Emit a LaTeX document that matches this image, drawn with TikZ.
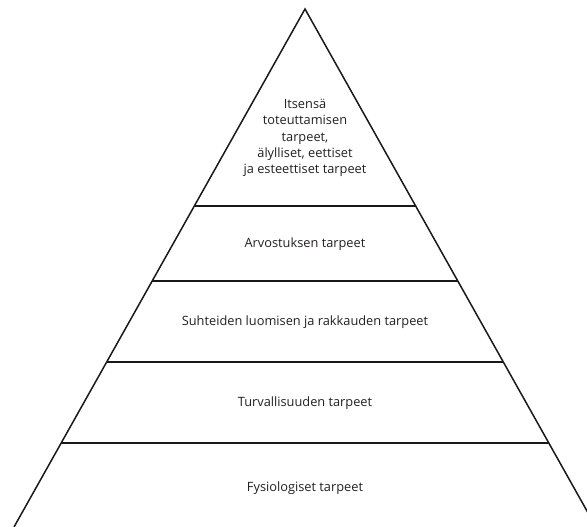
\documentclass[tikz,border=0pt]{standalone}
\usepackage{fontspec}
\setmainfont{Open Sans}
\definecolor{darkGray}{RGB}{35, 31, 32}
\usepackage{tikz}
\usetikzlibrary{calc}

\begin{document}
\begin{tikzpicture}[
    x=1pt, y=-1pt,
    level/.style={font=\fontsize{12.8}{16.3}\selectfont, align=center, text=darkGray},
    edge/.style={line width=1.5pt, draw=black!90},
  ]
    \useasboundingbox (0,0) rectangle (587,527);
    \clip (0,0) rectangle (587,527);

    % Pyramid outline
    \coordinate (apex) at (305,9);
    \coordinate (baseL) at (14,527);
    \coordinate (baseR) at (596,527);
    \draw[edge] (baseL) -- (apex) -- (baseR);

    % Level separators
    \foreach \t in {0.380, 0.525, 0.681, 0.838}
      \draw[edge] ($(apex)!\t!(baseL)$) -- ($(apex)!\t!(baseR)$);

    % Levels
    \node[level] (SELF) at (305,138)
         {Itsensä\\toteuttamisen\\tarpeet,\\älylliset, eettiset\\ja esteettiset tarpeet};
    \node[level] (ESTEEM) at (305,244) {Arvostuksen tarpeet};
    \node[level] (LOVE) at (305,322) {Suhteiden luomisen ja rakkauden tarpeet};
    \node[level] (SAFETY) at (305,403) {Turvallisuuden tarpeet};
    \node[level] (PHYS) at (305,488) {Fysiologiset tarpeet};
  \end{tikzpicture}
\end{document}
